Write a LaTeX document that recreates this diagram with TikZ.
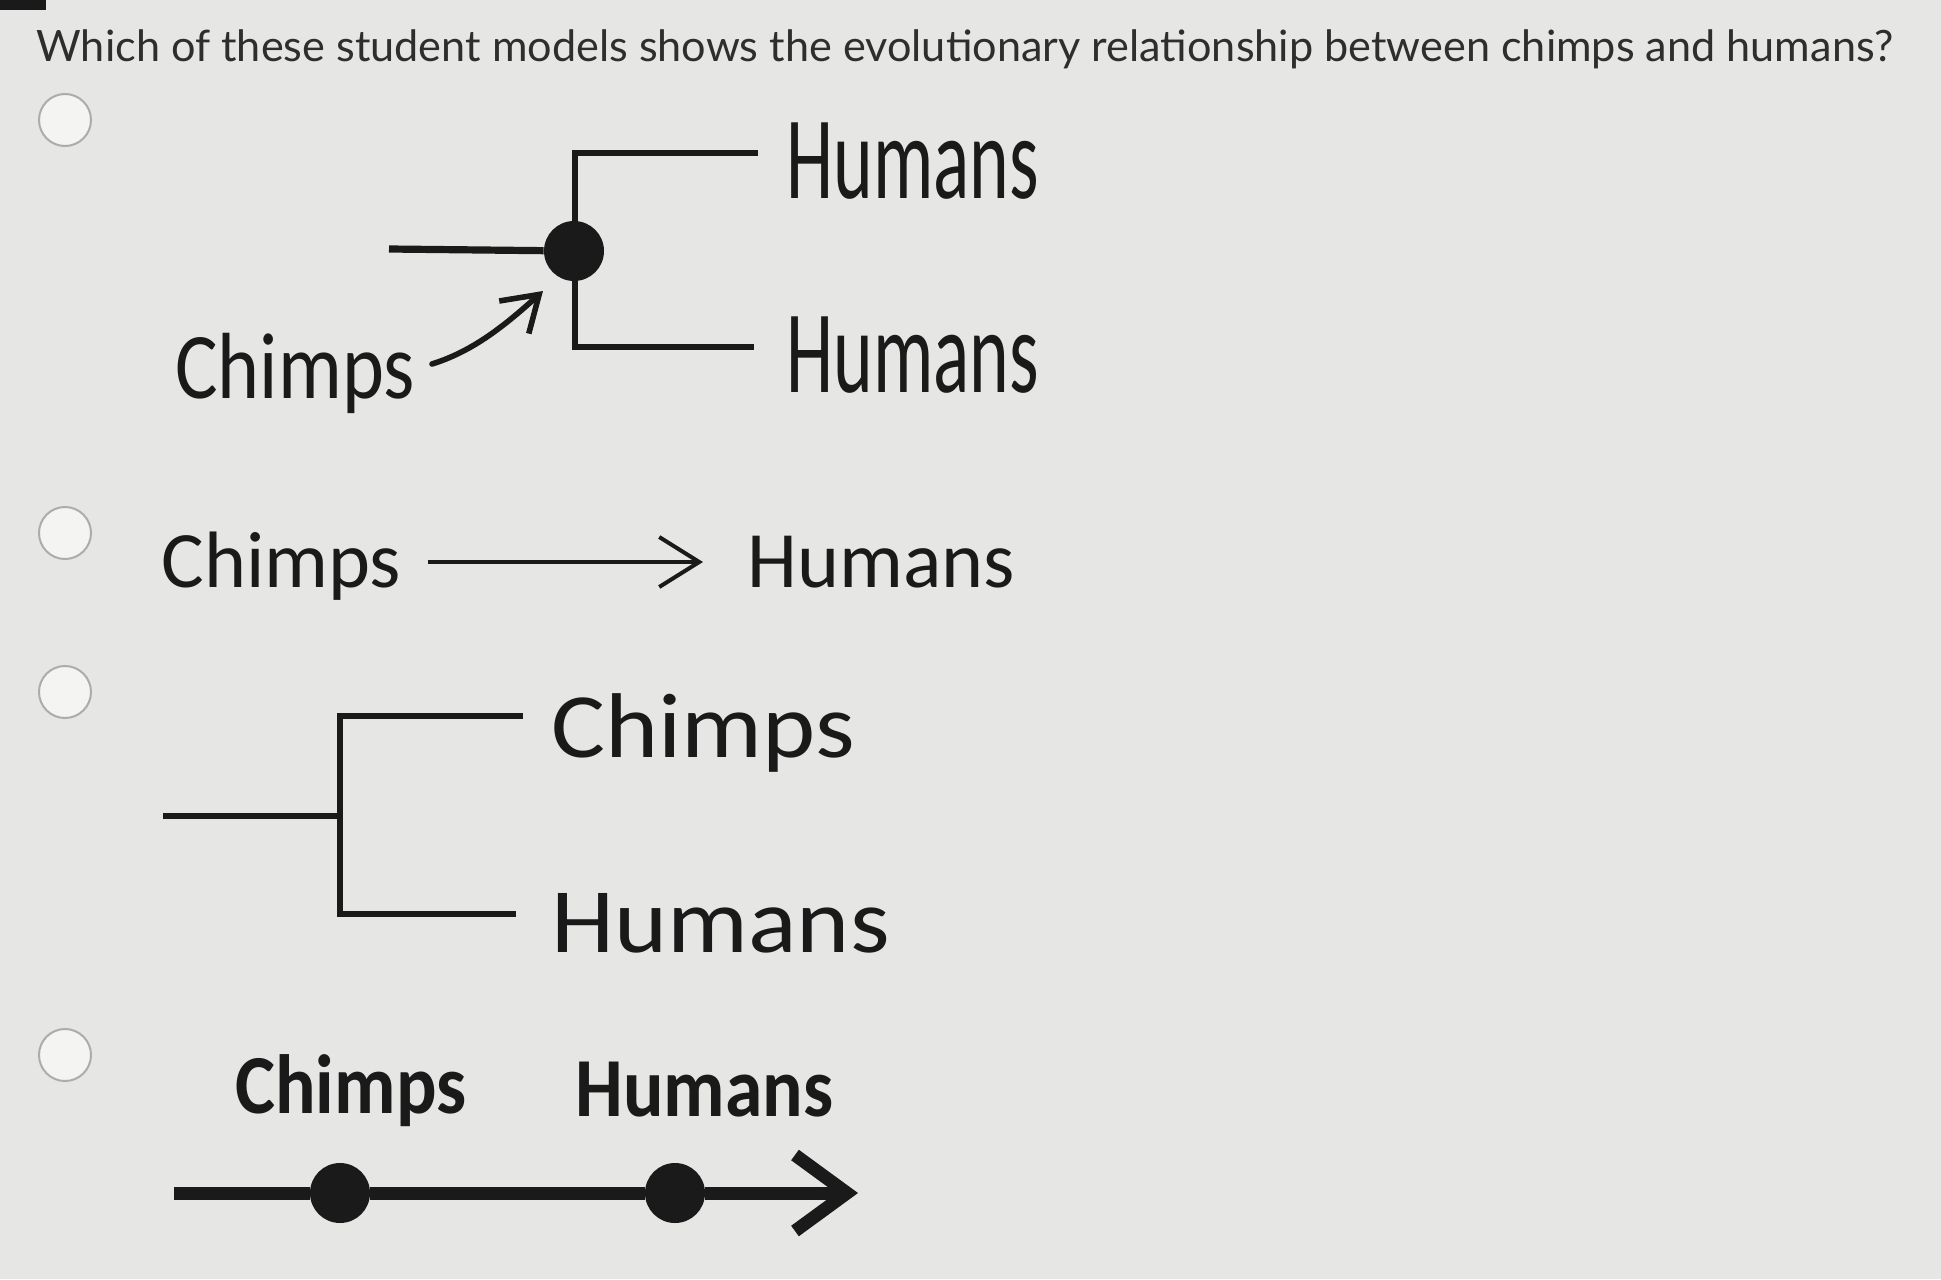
\documentclass[tikz,border=0pt]{standalone}
\usepackage{fontspec}
\setmainfont{Lato}
\newfontfamily\handfont{Carlito}
\usetikzlibrary{arrows.meta,positioning}
\definecolor{paper}{RGB}{230,230,228}
\definecolor{ink}{RGB}{26,26,26}
\definecolor{quiz}{RGB}{46,46,46}
\definecolor{ring}{RGB}{172,172,172}
\tikzset{
  radio/.style={circle, draw=ring, line width=1pt, fill=white!55!paper,
                minimum size=26pt, inner sep=0pt},
  tallhand/.style={font={\handfont\addfontfeature{FakeStretch=0.64}\fontsize{59}{60}\selectfont},
                   text=ink, inner sep=0pt, anchor=base west},
  midhand/.style={font={\handfont\addfontfeature{FakeStretch=0.85}\fontsize{47}{50}\selectfont},
                  text=ink, inner sep=0pt, anchor=base west},
  plainhand/.style={font={\handfont\fontsize{40}{44}\selectfont},
                    text=ink, inner sep=0pt, anchor=base west,
                    text height=25pt, text depth=0pt},
  widehand/.style={font={\handfont\addfontfeature{FakeStretch=1.1}\fontsize{46}{50}\selectfont},
                   text=ink, inner sep=0pt, anchor=base west},
  boldhand/.style={font={\handfont\addfontfeature{FakeStretch=0.9}\bfseries\fontsize{42}{46}\selectfont},
                   text=ink, inner sep=0pt, anchor=base west},
  knot/.style={circle, fill=ink, minimum size=30pt, inner sep=0pt},
  branch/.style={draw=ink, line width=3.1pt},
  hookarrow/.style={draw=ink, line width=2.8pt, line cap=round,
                    -{Straight Barb[length=17pt, width=22pt]}},
  pointer/.style={draw=ink, line width=2pt,
                  -{Straight Barb[length=20pt, width=25pt]}},
  spine/.style={draw=ink, line width=6.5pt,
                -{Straight Barb[length=26pt, width=38pt]}},
}
\begin{document}
\begin{tikzpicture}[x=0.5pt, y=-0.5pt]
  \fill[paper] (0,0) rectangle (1941,1279);
  \useasboundingbox (0,0) rectangle (1941,1279);
  \fill[ink] (0,0) rectangle (46,10);
  \node[anchor=base west, inner sep=0pt, text=quiz,
        font=\fontsize{21.6}{24}\selectfont] (question) at (36,62)
    {Which of these student models shows the evolutionary relationship between chimps and humans?};
  \node[radio] (radio1) at (65,120) {};
  \node[radio] (radio2) at (65,533) {};
  \node[radio] (radio3) at (65,692) {};
  \node[radio] (radio4) at (65,1055) {};

  \node[knot] (rootA) at (574,251) {};
  \coordinate (aTop) at (575,153);
  \coordinate (aTopEnd) at (758,153);
  \coordinate (aBot) at (575,347);
  \coordinate (aBotEnd) at (754,347);
  \coordinate (aStem) at (389,249);
  \node[tallhand] (humA1) at (786,198) {Humans};
  \node[tallhand] (humA2) at (786,392) {Humans};
  \node[midhand]  (chA)   at (175,398) {Chimps};
  \coordinate (aTail) at (432,364);
  \coordinate (aTip) at (543,291);
  \draw[branch] (aTopEnd) -- (aTop) -- (aBot) -- (aBotEnd);
  \draw[branch, line width=3.6pt] (aStem) -- (rootA);
  \draw[hookarrow] (aTail) .. controls (470,352) and (500,330) .. (aTip);

  \node[plainhand] (chB)  at (161,587) {Chimps};
  \node[plainhand] (humB) at (747,587) {Humans};
  \draw[pointer, shorten <=13pt, shorten >=22pt] (chB) -- (humB);

  \coordinate (cTop) at (340,716);
  \coordinate (cTopEnd) at (523,716);
  \coordinate (cBot) at (340,914);
  \coordinate (cBotEnd) at (516,914);
  \coordinate (cStem) at (163,816);
  \coordinate (cFork) at (340,816);
  \node[widehand] (chC)  at (551,757) {Chimps};
  \node[widehand] (humC) at (551,952) {Humans};
  \draw[branch] (cTopEnd) -- (cTop) -- (cBot) -- (cBotEnd);
  \draw[branch] (cStem) -- (cFork);

  \node[knot] (dotD1) at (340,1193) {};
  \node[knot] (dotD2) at (675,1193) {};
  \coordinate (dStart) at (174,1193);
  \coordinate (dEnd) at (858,1193);
  \node[boldhand] (chD)  at (235,1113) {Chimps};
  \node[boldhand] (humD) at (575,1116) {Humans};
  \draw[spine] (dStart) -- (dotD1) -- (dotD2) -- (dEnd);
\end{tikzpicture}
\end{document}
